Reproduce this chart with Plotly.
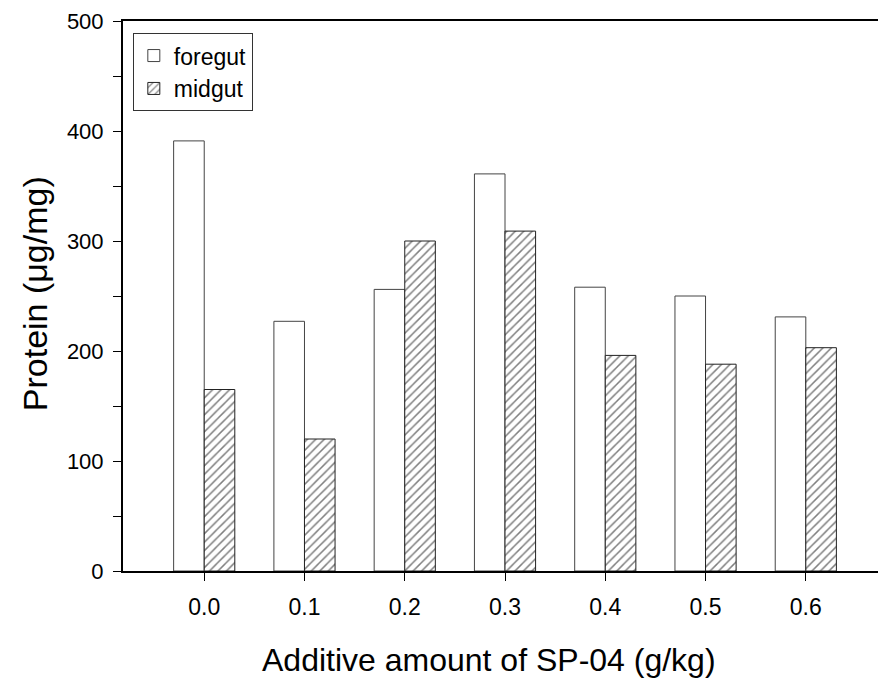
import plotly.graph_objects as go

categories = ["0.0", "0.1", "0.2", "0.3", "0.4", "0.5", "0.6"]
foregut = [391, 227, 256, 361, 258, 250, 231]
midgut = [165, 120, 300, 309, 196, 188, 203]

x_title = "Additive amount of SP-04 (g/kg)"
y_title = "Protein (μg/mg)"

FONT = "Liberation Sans, Arial, sans-serif"

fig = go.Figure()
fig.add_trace(go.Bar(
    x=categories, y=foregut, name="foregut",
    marker=dict(color="white", line=dict(color="#444444", width=1)),
))
fig.add_trace(go.Bar(
    x=categories, y=midgut, name="midgut",
    marker=dict(color="white", line=dict(color="#222222", width=1),
                pattern=dict(shape="/", fgcolor="black", bgcolor="white",
                             size=6, solidity=0.25)),
))

fig.update_layout(
    width=880, height=684,
    margin=dict(l=123, r=2, t=21, b=113),
    paper_bgcolor="white", plot_bgcolor="white",
    barmode="group", bargap=0.39, bargroupgap=0,
    font=dict(family=FONT, color="black", size=22),
    showlegend=True,
    legend=dict(x=0.013, y=0.978, xanchor="left", yanchor="top",
                bordercolor="#333333", borderwidth=1, bgcolor="white",
                font=dict(family=FONT, size=23, color="black"),
                tracegroupgap=6),
    xaxis=dict(
        type="category", range=[-0.81, 6.72],
        showline=True, linecolor="black", linewidth=2, mirror=True,
        ticks="outside", ticklen=8, tickwidth=1, tickcolor="black",
        showgrid=False, zeroline=False,
        tickfont=dict(family=FONT, size=23), ticklabelstandoff=6,
    ),
    yaxis=dict(
        range=[0, 500], dtick=100, tick0=0,
        showline=True, linecolor="black", linewidth=2,
        ticks="outside", ticklen=8, tickwidth=1, tickcolor="black",
        minor=dict(dtick=50, ticks="outside", ticklen=8, tickwidth=1,
                   tickcolor="black", showgrid=False),
        showgrid=False, zeroline=False,
        tickfont=dict(family=FONT, size=22), ticklabelstandoff=5,
    ),
    annotations=[
        dict(text=x_title, xref="paper", yref="paper", x=0.485, y=-0.162,
             xanchor="center", yanchor="middle", showarrow=False,
             font=dict(family=FONT, size=32, color="black")),
        dict(text=y_title, xref="paper", yref="paper", x=-0.1166, y=0.505,
             xanchor="center", yanchor="middle", showarrow=False, textangle=-90,
             font=dict(family=FONT, size=34, color="black")),
    ],
)

fig.write_html("out.html")
